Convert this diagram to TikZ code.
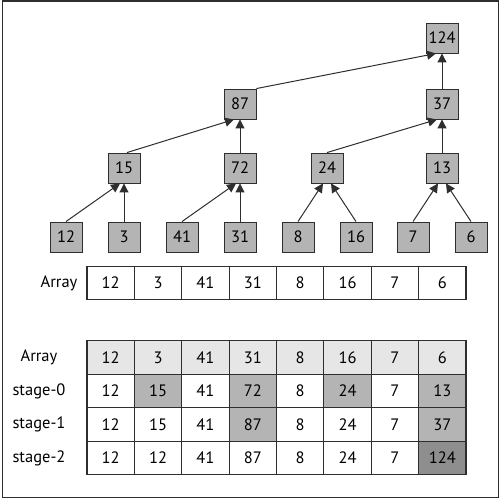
\documentclass[tikz,border=0pt]{standalone}
\usepackage{fontspec}
\setmainfont{PT Sans}
\usepackage{xcolor}
\usepackage{tikz}
\usetikzlibrary{arrows.meta}

\definecolor{boxgray}{HTML}{B4B4B4}
\definecolor{rowgray}{HTML}{E6E6E6}
\definecolor{topgray}{HTML}{8E8E8E}
\definecolor{linegray}{HTML}{2E2E2E}

\tikzset{
  sumbox/.style={draw=linegray, fill=boxgray, line width=0.9pt, minimum width=32pt,
    minimum height=30pt, inner sep=0pt, font=\fontsize{16.5}{19}\selectfont},
  cell/.style={draw=linegray, line width=1.1pt, minimum width=47.4pt,
    minimum height=33.4pt, inner sep=0pt, font=\fontsize{16.5}{19}\selectfont},
  rowlabel/.style={inner sep=0pt, font=\fontsize{16.5}{19}\selectfont},
  sumarrow/.style={linegray, line width=1pt, -{Triangle[length=9pt,width=9pt]}}
}

\begin{document}
\begin{tikzpicture}[x=1pt, y=-1pt]
      \useasboundingbox (0,0) rectangle (500,499);
      \draw [linegray, line width=1.5pt] (2.5,0.75) rectangle (498.5,497.5);

      % leaves
      \node [sumbox] (n12) at (66, 237) {12};
      \node [sumbox] (n3) at (124, 237) {3};
      \node [sumbox] (n41) at (182, 237) {41};
      \node [sumbox] (n31) at (240, 237) {31};
      \node [sumbox] (n8) at (298, 237) {8};
      \node [sumbox] (n16) at (356, 237) {16};
      \node [sumbox] (n7) at (413, 237) {7};
      \node [sumbox] (n6) at (471, 237) {6};

      % partial sums
      \node [sumbox] (n15) at (124, 168) {15};
      \node [sumbox] (n72) at (240, 168) {72};
      \node [sumbox] (n24) at (327, 168) {24};
      \node [sumbox] (n13) at (442, 168) {13};
      \node [sumbox] (n87) at (240, 104) {87};
      \node [sumbox] (n37) at (442, 104) {37};
      \node [sumbox] (n124) at (442, 38) {124};

      \draw [sumarrow] (n12.north) -- ([xshift=-4pt]n15.south);
      \draw [sumarrow] (n3.north) -- (n15.south);
      \draw [sumarrow] (n41.north) -- ([xshift=-4pt]n72.south);
      \draw [sumarrow] (n31.north) -- (n72.south);
      \draw [sumarrow] (n8.north) -- ([xshift=-4pt]n24.south);
      \draw [sumarrow] (n16.north) -- ([xshift=4pt]n24.south);
      \draw [sumarrow] (n7.north) -- ([xshift=-4pt]n13.south);
      \draw [sumarrow] (n6.north) -- ([xshift=4pt]n13.south);

      \draw [sumarrow] ([xshift=3pt]n15.north) -- ([xshift=-6pt]n87.south);
      \draw [sumarrow] (n72.north) -- (n87.south);
      \draw [sumarrow] (n24.north) -- ([xshift=-5pt]n37.south);
      \draw [sumarrow] (n13.north) -- (n37.south);
      \draw [sumarrow] (n87.north east) -- ([xshift=-6pt]n124.south);
      \draw [sumarrow] (n37.north) -- (n124.south);

      % input array
      \node [rowlabel] (arr) at (59, 283) {Array};
      \foreach \v [count=\i] in {12,3,41,31,8,16,7,6}
        \node [cell] (a\i) at (63.3+47.375*\i, 283) {\v};

      % stages
      \node [rowlabel] (row0) at (39, 357.5) {Array};
      \node [rowlabel] (row1) at (39, 391) {stage-0};
      \node [rowlabel] (row2) at (39, 424.5) {stage-1};
      \node [rowlabel] (row3) at (39, 458) {stage-2};
      \foreach \v [count=\i] in {12,3,41,31,8,16,7,6}
        \node [cell, fill=rowgray] (s0\i) at (63.3+47.375*\i, 357.5) {\v};
      \foreach \v/\f [count=\i] in {12/white,15/boxgray,41/white,72/boxgray,8/white,24/boxgray,7/white,13/boxgray}
        \node [cell, fill=\f] (s1\i) at (63.3+47.375*\i, 391) {\v};
      \foreach \v/\f [count=\i] in {12/white,15/white,41/white,87/boxgray,8/white,24/white,7/white,37/boxgray}
        \node [cell, fill=\f] (s2\i) at (63.3+47.375*\i, 424.5) {\v};
      \foreach \v/\f [count=\i] in {12/white,12/white,41/white,87/white,8/white,24/white,7/white,124/topgray}
        \node [cell, fill=\f] (s3\i) at (63.3+47.375*\i, 458) {\v};
    \end{tikzpicture}
\end{document}
